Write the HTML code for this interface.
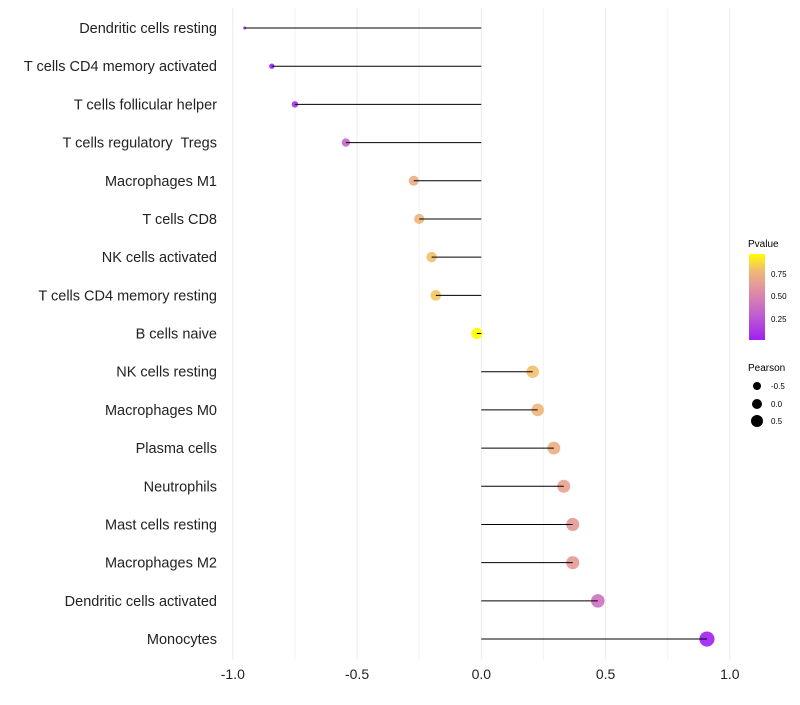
<!DOCTYPE html>
<html><head><meta charset="utf-8"><style>
body{margin:0;background:#fff;font-family:"Liberation Sans",sans-serif}
text{white-space:pre}
</style></head><body>
<svg id="chart" width="800" height="700" xmlns="http://www.w3.org/2000/svg" font-family="Liberation Sans, sans-serif">
<defs><linearGradient id="pg" x1="0" y1="1" x2="0" y2="0">
<stop offset="0" stop-color="#a020f0"/><stop offset="0.3" stop-color="#c060d0"/><stop offset="0.55" stop-color="#de8aa8"/><stop offset="0.8" stop-color="#f0b878"/><stop offset="1" stop-color="#ffff00"/></linearGradient></defs>
<g id="grid"></g>
<g id="marks"></g>
<g id="ylabels"></g>
<g id="xlabels"></g>
<g>
<text x="748" y="247" font-size="10">Pvalue</text>
<rect x="749" y="254" width="16" height="86" fill="url(#pg)"/>
<text x="771" y="277" font-size="8">0.75</text>
<text x="771" y="299" font-size="8">0.50</text>
<text x="771" y="322" font-size="8">0.25</text>
</g>
<g>
<text x="748" y="371" font-size="10">Pearson</text>
<circle cx="757" cy="386" r="4" fill="#000"/>
<circle cx="757" cy="404" r="5" fill="#000"/>
<circle cx="757" cy="421" r="6" fill="#000"/>
<text x="771" y="389" font-size="8">-0.5</text>
<text x="771" y="407" font-size="8">0.0</text>
<text x="771" y="424" font-size="8">0.5</text>
</g>
</svg>
<script>
const categories=["Dendritic cells resting","T cells CD4 memory activated","T cells follicular helper","T cells regulatory  Tregs","Macrophages M1","T cells CD8","NK cells activated","T cells CD4 memory resting","B cells naive","NK cells resting","Macrophages M0","Plasma cells","Neutrophils","Mast cells resting","Macrophages M2","Dendritic cells activated","Monocytes"];
const pearson=[-0.952,-0.843,-0.75,-0.545,-0.272,-0.25,-0.20,-0.183,-0.018,0.207,0.227,0.292,0.332,0.368,0.368,0.469,0.908];
const pvalues=[0.02,0.04,0.08,0.33,0.72,0.76,0.8,0.82,0.97,0.8,0.77,0.72,0.67,0.62,0.62,0.4,0.02];
const xTicks=[-1,-0.5,0,0.5,1];
const xTickLabels=["-1.0","-0.5","0.0","0.5","1.0"];
const NS="http://www.w3.org/2000/svg";
const xs=v=>481.3+v*248.5;
const ys=i=>28+i*38.19;
function lerp(a,b,t){return a+(b-a)*t}
const stops=[[0,[160,32,240]],[0.3,[192,96,208]],[0.55,[222,138,168]],[0.8,[240,184,120]],[1,[255,255,0]]];
function colorOf(p){const t=Math.max(0,Math.min(1,(p-0.016)/(0.97-0.016)));for(let k=1;k<stops.length;k++){if(t<=stops[k][0]){const a=stops[k-1],b=stops[k];const u=(t-a[0])/(b[0]-a[0]);return `rgb(${Math.round(lerp(a[1][0],b[1][0],u))},${Math.round(lerp(a[1][1],b[1][1],u))},${Math.round(lerp(a[1][2],b[1][2],u))})`;}}return "rgb(255,255,0)";}
function mk(tag,attrs,parent){const e=document.createElementNS(NS,tag);for(const k in attrs)e.setAttribute(k,attrs[k]);parent.appendChild(e);return e;}
const grid=document.getElementById('grid'),marks=document.getElementById('marks'),yl=document.getElementById('ylabels'),xl=document.getElementById('xlabels');
for(let v=-1;v<=1.001;v+=0.25){const g=mk('line',{x1:xs(v),x2:xs(v),y1:8,y2:660,stroke:Math.abs(v*2-Math.round(v*2))<0.01?'#ebebeb':'#f3f3f3','stroke-width':1},grid);

}
xTicks.forEach((v,i)=>{const t=mk('text',{x:xs(v),y:679,'font-size':14,'text-anchor':'middle',fill:'#222'},xl);t.textContent=xTickLabels[i];

});
const pmin=Math.min(...pearson),pmax=Math.max(...pearson);
categories.forEach((c,i)=>{const y=ys(i);
const t=mk('text',{x:217,y:y+5,'font-size':14.5,'text-anchor':'end',fill:'#222'},yl);t.textContent=c;


const tt=(pearson[i]-pmin)/(pmax-pmin);
const r=1.2*(0.6+5.4*Math.sqrt(tt))+0.4;
const pt=mk('circle',{cx:xs(pearson[i]),cy:y,r:Math.max(1.5,r),fill:colorOf(pvalues[i]),'fill-opacity':0.9},marks);


const ln=mk('line',{x1:xs(0),x2:xs(pearson[i]),y1:y,y2:y,stroke:'#000','stroke-width':1},marks);

});
</script>
</body></html>
